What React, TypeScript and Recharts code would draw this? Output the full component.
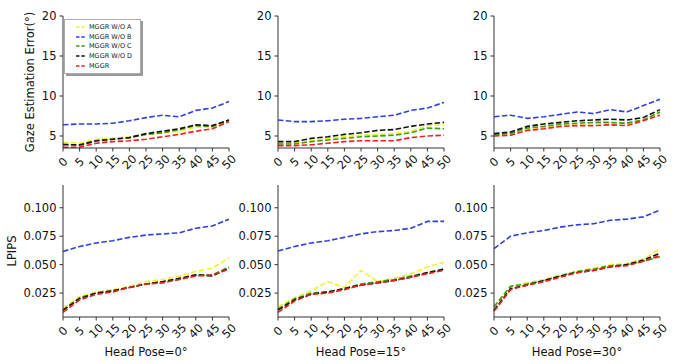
import React from "react";
import { LineChart, Line, XAxis, YAxis, Legend } from "recharts";

const headPose = [0, 5, 10, 15, 20, 25, 30, 35, 40, 45, 50];
const gazeTicks = [5, 10, 15, 20];
const lpipsTicks = [0.025, 0.05, 0.075, 0.1];

// gaze estimation error, head pose 0
const gaze0A = [4.2, 4.1, 4.6, 4.7, 4.9, 5.2, 5.4, 5.6, 6.1, 6.1, 6.9];
const gaze0B = [6.4, 6.5, 6.5, 6.6, 6.9, 7.3, 7.6, 7.4, 8.2, 8.5, 9.3];
const gaze0C = [4.0, 3.8, 4.4, 4.6, 4.8, 5.2, 5.4, 5.8, 6.3, 6.2, 7.0];
const gaze0D = [3.9, 3.9, 4.4, 4.6, 4.8, 5.3, 5.6, 5.9, 6.4, 6.3, 7.0];
const gaze0M = [3.6, 3.6, 4.1, 4.3, 4.4, 4.6, 4.9, 5.2, 5.6, 5.9, 6.8];

// head pose 15
const gaze15A = [4.1, 4.1, 4.4, 4.7, 4.9, 5.1, 5.2, 5.3, 5.6, 6.3, 6.4];
const gaze15B = [7.0, 6.8, 6.8, 6.9, 7.1, 7.2, 7.4, 7.6, 8.2, 8.5, 9.2];
const gaze15C = [4.0, 4.0, 4.3, 4.5, 4.7, 4.9, 5.0, 5.1, 5.4, 6.0, 5.9];
const gaze15D = [4.3, 4.3, 4.7, 4.9, 5.2, 5.4, 5.7, 5.8, 6.2, 6.5, 6.7];
const gaze15M = [3.8, 3.8, 3.9, 4.1, 4.3, 4.4, 4.4, 4.4, 4.8, 5.0, 5.1];

// head pose 30
const gaze30A = [5.2, 5.3, 5.9, 6.1, 6.3, 6.5, 6.6, 6.6, 6.6, 7.0, 7.9];
const gaze30B = [7.4, 7.6, 7.2, 7.4, 7.7, 8.0, 7.8, 8.3, 8.0, 8.8, 9.6];
const gaze30C = [5.2, 5.3, 6.0, 6.2, 6.5, 6.6, 6.7, 6.7, 6.6, 7.0, 8.0];
const gaze30D = [5.3, 5.5, 6.2, 6.5, 6.7, 6.9, 7.0, 7.1, 7.0, 7.3, 8.3];
const gaze30M = [5.0, 5.1, 5.7, 5.9, 6.2, 6.3, 6.3, 6.4, 6.3, 6.9, 7.6];

// LPIPS, head pose 0
const lpips0A = [0.012, 0.022, 0.026, 0.028, 0.031, 0.035, 0.037, 0.04, 0.044, 0.047, 0.056];
const lpips0B = [0.0616, 0.066, 0.069, 0.071, 0.074, 0.076, 0.077, 0.078, 0.082, 0.084, 0.09];
const lpips0C = [0.01, 0.021, 0.025, 0.027, 0.03, 0.033, 0.035, 0.037, 0.041, 0.041, 0.048];
const lpips0D = [0.01, 0.02, 0.025, 0.027, 0.03, 0.033, 0.035, 0.038, 0.041, 0.04, 0.047];
const lpips0M = [0.008, 0.019, 0.024, 0.026, 0.03, 0.033, 0.034, 0.037, 0.04, 0.041, 0.046];

// head pose 15
const lpips15A = [0.013, 0.021, 0.027, 0.035, 0.03, 0.045, 0.035, 0.038, 0.042, 0.048, 0.052];
const lpips15B = [0.062, 0.066, 0.069, 0.071, 0.074, 0.077, 0.079, 0.08, 0.082, 0.088, 0.088];
const lpips15C = [0.011, 0.02, 0.025, 0.026, 0.029, 0.033, 0.035, 0.037, 0.04, 0.043, 0.046];
const lpips15D = [0.01, 0.019, 0.024, 0.026, 0.029, 0.032, 0.034, 0.036, 0.039, 0.043, 0.046];
const lpips15M = [0.008, 0.018, 0.024, 0.025, 0.028, 0.032, 0.034, 0.036, 0.039, 0.042, 0.045];

// head pose 30
const lpips30A = [0.013, 0.031, 0.034, 0.037, 0.041, 0.044, 0.047, 0.05, 0.051, 0.055, 0.064];
const lpips30B = [0.064, 0.075, 0.078, 0.08, 0.083, 0.085, 0.086, 0.089, 0.09, 0.092, 0.098];
const lpips30C = [0.013, 0.031, 0.033, 0.036, 0.04, 0.044, 0.046, 0.049, 0.05, 0.053, 0.057];
const lpips30D = [0.01, 0.029, 0.032, 0.036, 0.04, 0.043, 0.045, 0.048, 0.05, 0.054, 0.06];
const lpips30M = [0.009, 0.028, 0.032, 0.035, 0.039, 0.043, 0.045, 0.048, 0.049, 0.053, 0.058];

const series = [
  { key: "a", name: "MGGR W/O A", color: "#f2f230" },
  { key: "b", name: "MGGR W/O B", color: "#3040dc" },
  { key: "c", name: "MGGR W/O C", color: "#3aa010" },
  { key: "d", name: "MGGR W/O D", color: "#111111" },
  { key: "m", name: "MGGR", color: "#f02020" },
];

const FONT = "DejaVu Sans";

function table(a: number[], b: number[], c: number[], d: number[], m: number[]) {
  return headPose.map((x, i) => ({ x, a: a[i], b: b[i], c: c[i], d: d[i], m: m[i] }));
}

const panels = [
  { data: table(gaze0A, gaze0B, gaze0C, gaze0D, gaze0M), row: 0, col: 0 },
  { data: table(gaze15A, gaze15B, gaze15C, gaze15D, gaze15M), row: 0, col: 1 },
  { data: table(gaze30A, gaze30B, gaze30C, gaze30D, gaze30M), row: 0, col: 2 },
  { data: table(lpips0A, lpips0B, lpips0C, lpips0D, lpips0M), row: 1, col: 0, pose: "0" },
  { data: table(lpips15A, lpips15B, lpips15C, lpips15D, lpips15M), row: 1, col: 1, pose: "15" },
  { data: table(lpips30A, lpips30B, lpips30C, lpips30D, lpips30M), row: 1, col: 2, pose: "30" },
];

const plotLeft = [63, 278.3, 494.3];
const plotTop = [15.5, 184.5];
const plotW = 166;
const plotH = 132;
const axisW = 60;

const XTick = (props: any) => {
  const { x, y, payload } = props;
  const cy = y + 8.5;
  return (
    <text
      x={x}
      y={cy}
      textAnchor="middle"
      dominantBaseline="central"
      transform={`rotate(-45 ${x} ${cy})`}
      fontSize={11.5}
      fontFamily={FONT}
      fill="#111"
    >
      {payload.value}
    </text>
  );
};

const YLab = (props: any) => {
  const { viewBox, text, dx } = props;
  const cx = viewBox.x + viewBox.width - dx;
  const cy = viewBox.y + viewBox.height / 2;
  return (
    <text
      x={cx}
      y={cy}
      textAnchor="middle"
      dominantBaseline="central"
      transform={`rotate(-90 ${cx} ${cy})`}
      fontSize={11.5}
      fontFamily={FONT}
      fill="#111"
    >
      {text}
    </text>
  );
};

const XLab = (props: any) => {
  const { viewBox, text } = props;
  return (
    <text
      x={viewBox.x + viewBox.width / 2}
      y={viewBox.y + 35}
      textAnchor="middle"
      dominantBaseline="central"
      fontSize={11.5}
      fontFamily={FONT}
      fill="#111"
    >
      {text}
    </text>
  );
};

const LegendBox = () => (
  <div
    style={{
      width: 62,
      border: "1px solid #aaa",
      background: "#fff",
      boxShadow: "2px 2px 0 #999",
      padding: "2px 2px 2px 11px",
      fontFamily: FONT,
      fontSize: 6.5,
      color: "#222",
      textAlign: "left",
    }}
  >
    {series.map((s) => (
      <div key={s.key} style={{ display: "flex", alignItems: "center", height: 9.8, whiteSpace: "nowrap" }}>
        <svg width={9} height={4} style={{ display: "block" }}>
          <line x1={0} y1={2} x2={9} y2={2} stroke={s.color} strokeWidth={1.4} strokeDasharray="3.5 1.8" />
        </svg>
        <span style={{ marginLeft: 4 }}>{s.name}</span>
      </div>
    ))}
  </div>
);

const Panel = ({ p }: { p: any }) => {
  const top = p.row === 0;
  const xH = top ? 30 : 45;
  const left = plotLeft[p.col] - axisW;
  const t = plotTop[p.row] - 10;
  return (
    <div style={{ position: "absolute", left, top: t }}>
      <LineChart
        width={axisW + plotW + 10}
        height={10 + plotH + xH}
        data={p.data}
        margin={{ top: 10, right: 10, left: 0, bottom: 0 }}
      >
        <XAxis
          dataKey="x"
          type="number"
          domain={[0, 50]}
          ticks={headPose}
          interval={0}
          height={xH}
          tick={<XTick />}
          tickSize={3.5}
          tickMargin={2}
          axisLine={{ stroke: "#333" }}
          tickLine={{ stroke: "#333" }}
          label={p.pose ? <XLab text={`Head Pose=${p.pose}°`} /> : undefined}
        />
        <XAxis xAxisId="top" orientation="top" dataKey="x" type="number" domain={[0, 50]} height={0} tick={false} tickLine={false} axisLine={{ stroke: "#333" }} />
        <YAxis
          type="number"
          width={axisW}
          domain={top ? [3.5, 20] : [0.004, 0.12]}
          ticks={top ? gazeTicks : lpipsTicks}
          allowDataOverflow
          tickFormatter={(v: number) => (top ? String(v) : v.toFixed(3))}
          tick={{ fontSize: 11.5, fontFamily: FONT, fill: "#111" }}
          tickSize={3.5}
          tickMargin={3}
          axisLine={{ stroke: "#333" }}
          tickLine={{ stroke: "#333" }}
          label={
            p.col === 0 ? (
              <YLab text={top ? "Gaze Estimation Error(°)" : "LPIPS"} dx={top ? 33 : 51} />
            ) : undefined
          }
        />
        <YAxis yAxisId="right" orientation="right" width={0} tick={false} tickLine={false} axisLine={{ stroke: "#333" }} />
        {series.map((s) => (
          <Line
            key={s.key}
            dataKey={s.key}
            name={s.name}
            type="linear"
            stroke={s.color}
            strokeWidth={1.6}
            strokeDasharray="5.5 2.4"
            dot={false}
            activeDot={false}
            isAnimationActive={false}
          />
        ))}
        {top && p.col === 0 ? (
          <Legend
            layout="vertical"
            align="center"
            verticalAlign="middle"
            content={<LegendBox />}
            wrapperStyle={{ left: 61, top: 13.5, width: "auto" }}
          />
        ) : null}
      </LineChart>
    </div>
  );
};

export default function App() {
  return (
    <div style={{ position: "absolute", left: 0, top: 0, width: 676, height: 364, background: "#fff" }}>
      {panels.map((p, i) => (
        <Panel key={i} p={p} />
      ))}
    </div>
  );
}
